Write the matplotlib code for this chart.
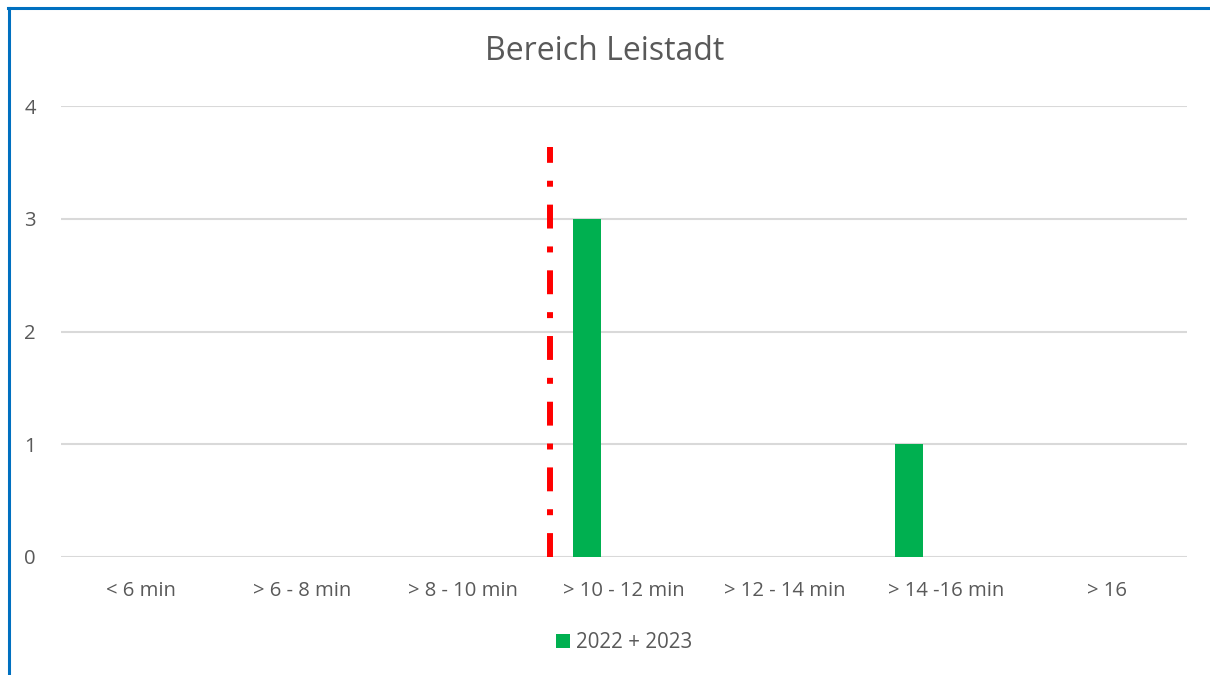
import matplotlib.pyplot as plt
from matplotlib.lines import Line2D
import numpy as np

categories = ["< 6 min", "> 6 - 8 min", "> 8 - 10 min", "> 10 - 12 min",
              "> 12 - 14 min", "> 14 -16 min", "> 16"]
counts = [0, 0, 0, 3, 0, 1, 0]
series_label = "2022 + 2023"
# target line (10 min mark) in category coordinates
target_x = 2.54
target_top = 3.64

plt.rcParams['font.family'] = ['Open Sans', 'DejaVu Sans']
TXT = '#595959'
GRID = '#d9d9d9'

fig = plt.figure(figsize=(12.1, 6.75), dpi=100)
ax = fig.add_axes([61/1210, 1 - 557/675, (1187 - 61)/1210, (557 - 106)/675])

x = np.arange(len(categories))
bar_offset = -0.23
bar_w = 0.174
ax.bar(x + bar_offset, counts, width=bar_w, color='#00b050', label=series_label,
       zorder=3)
ax.plot([target_x, target_x], [0, target_top], color='#ff0000', lw=4.3,
        linestyle=(0, (4, 3, 1, 3)), dash_capstyle='butt', zorder=4)

ax.set_xlim(-0.5, len(categories) - 0.5)
ax.set_ylim(0, 4)
ax.set_yticks(range(5))
ax.set_xticks(x)
ax.set_xticklabels(categories)
ax.grid(axis='y', color=GRID, lw=1.5, zorder=0)
for s in ax.spines.values():
  s.set_visible(False)
ax.tick_params(length=0, colors=TXT, labelsize=14.6)
ax.tick_params(axis='y', pad=18)
ax.tick_params(axis='x', pad=17)

fig.text(0.5, 1 - 52/675, "Bereich Leistadt", ha='center', va='center',
         fontsize=23, color=TXT)
ax.legend(loc='upper center', bbox_to_anchor=(0.5, -0.126), frameon=False,
          fontsize=14.8, labelcolor=TXT, handlelength=0.7, handleheight=0.7,
          handletextpad=0.3)

# blue frame on top and left
fig.add_artist(Line2D([8/1210, 1], [1 - 8/675, 1 - 8/675], color='#0070c0',
                      lw=2.2, transform=fig.transFigure))
fig.add_artist(Line2D([9/1210, 9/1210], [0, 1 - 8/675], color='#0070c0',
                      lw=2.2, transform=fig.transFigure))

fig.savefig("out.png", dpi=100)
